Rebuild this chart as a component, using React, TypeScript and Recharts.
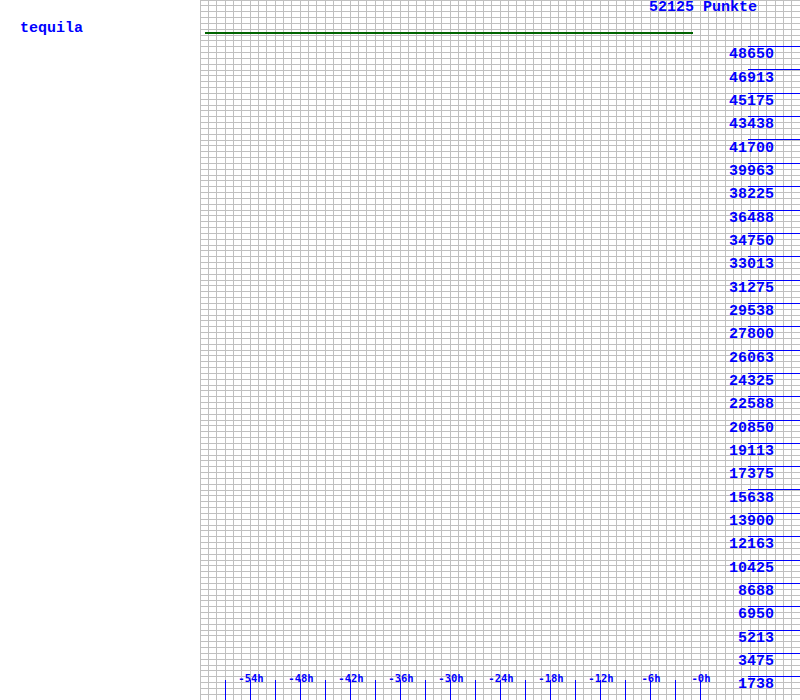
import React from "react";
import { ComposedChart, Line, XAxis, YAxis, CartesianGrid } from "recharts";

// points history (hours relative to now)
const hours = [-59.4, -0.84];
const points = [49670, 49670];

const playerName = "tequila";
const currentPoints = "52125 Punkte";

const maxPoints = 52125;
const gridStep = 434.375; // 4 grid rows per labelled step
const hourTicks = Array.from({ length: 73 }, (_, i) => i - 60);
const pointTicks = Array.from({ length: 121 }, (_, i) => i * gridStep);

const blue = "#0000ff";
const font = "'Liberation Mono', 'DejaVu Sans Mono', monospace";
const smallFont = "'DejaVu Sans Mono', monospace";

const data = hours.map((h, i) => ({ h, points: points[i] }));

const HourTick = (props: any) => {
  const { x, y, payload } = props;
  const h = payload.value;
  const showMark = h % 3 === 0 && h >= -57 && h <= 0;
  const showLabel = h % 6 === 0 && h >= -54 && h <= 0;
  const px = Math.round(x) + 0.5;
  return (
    <g>
      {showMark && (
        <line x1={px} x2={px} y1={680} y2={700} stroke={blue} strokeWidth={1} shapeRendering="crispEdges" />
      )}
      {showLabel && (
        <text x={x + 1} y={y - 18} textAnchor="middle" fill={blue} fontFamily={smallFont} fontWeight="bold" fontSize={10.5}>
          {`-${Math.abs(h)}h`}
        </text>
      )}
    </g>
  );
};

const PointTick = (props: any) => {
  const { x, y, payload } = props;
  const k = Math.round(payload.value / gridStep);
  if (k % 4 !== 0 || k < 4 || k > 112) return <g />;
  const py = Math.floor(y) + 0.5;
  return (
    <g>
      <line x1={x - 52} x2={x} y1={py} y2={py} stroke={blue} strokeWidth={1} shapeRendering="crispEdges" />
      <text x={x - 26} y={y + 11.5} textAnchor="end" fill={blue} fontFamily={font} fontWeight="bold" fontSize={15}>
        {Math.round(payload.value)}
      </text>
    </g>
  );
};

export default function App() {
  return (
    <div style={{ position: "absolute", left: 0, top: 0, width: 800, height: 700, background: "#fff" }}>
      <ComposedChart width={800} height={700} data={data} margin={{ top: 0, right: 0, bottom: 0, left: 200 }}>
        <CartesianGrid stroke="#c0c0c0" strokeWidth={1} shapeRendering="crispEdges" />
        <XAxis
          dataKey="h"
          type="number"
          domain={[-60, 12]}
          ticks={hourTicks}
          interval={0}
          mirror
          height={1}
          tickSize={0}
          tickMargin={0}
          axisLine={false}
          tickLine={false}
          tick={<HourTick />}
        />
        <YAxis
          type="number"
          orientation="right"
          domain={[0, maxPoints]}
          ticks={pointTicks}
          interval={0}
          mirror
          width={1}
          tickSize={0}
          tickMargin={0}
          axisLine={false}
          tickLine={false}
          tick={<PointTick />}
        />
        <Line
          dataKey="points"
          stroke="#006400"
          strokeWidth={2}
          dot={false}
          isAnimationActive={false}
        />
      </ComposedChart>
      <svg width={800} height={700} style={{ position: "absolute", left: 0, top: 0, pointerEvents: "none" }}>
        <text x={20} y={32} fill={blue} fontFamily={font} fontWeight="bold" fontSize={15}>
          {playerName}
        </text>
        <text x={649} y={11} fill={blue} fontFamily={font} fontWeight="bold" fontSize={15}>
          {currentPoints}
        </text>
      </svg>
    </div>
  );
}
